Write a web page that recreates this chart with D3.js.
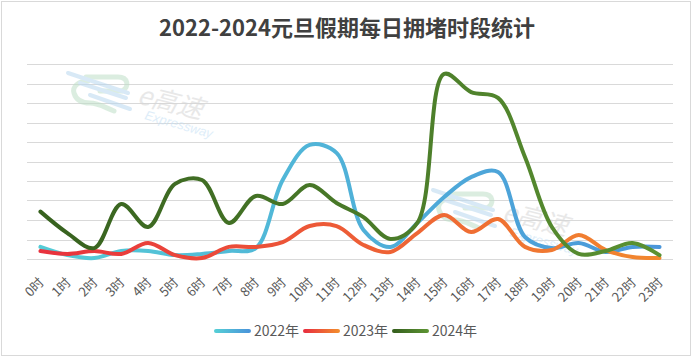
<!DOCTYPE html>
<html><head><meta charset="utf-8">
<script src="https://cdn.jsdelivr.net/npm/d3@7"></script>
<style>body{margin:0;background:#fff;}svg{display:block;font-family:"Noto Sans CJK SC","Noto Sans",sans-serif;}</style>
</head><body>
<svg id="c" width="693" height="357"></svg>
<script>
const hours = ["0时","1时","2时","3时","4时","5时","6时","7时","8时","9时","10时","11时","12时","13时","14时","15时","16时","17时","18时","19时","20时","21时","22时","23时"];
const v2022 = [0.62,0.2,0.05,0.41,0.41,0.2,0.26,0.41,0.56,4.05,5.85,5.44,1.49,0.62,1.85,3.18,4.2,4.46,1.13,0.56,0.82,0.36,0.62,0.62];
const v2023 = [0.41,0.26,0.41,0.26,0.82,0.2,0.05,0.62,0.62,0.87,1.69,1.69,0.72,0.36,1.33,2.26,1.38,2.05,0.62,0.46,1.23,0.46,0.1,0.05];
const v2024 = [2.43,1.33,0.56,2.82,1.64,3.85,4.05,1.85,3.23,2.82,3.79,2.87,2.15,1.03,1.85,9.49,8.56,8.26,5.23,1.64,0.26,0.41,0.82,0.2];
const seriesNames = ["2022年","2023年","2024年"];
const gridTicks = [0,1,2,3,4,5,6,7,8,9,10];

const svg = d3.select("#c");
const W = 693, H = 357;
const m = {l:27, r:20, t:64, b:98};
const x = d3.scaleBand().domain(hours).range([m.l, W - m.r]);
const y = d3.scaleLinear().domain([0,10]).range([H - m.b, m.t]);

svg.append("rect").attr("x",1.5).attr("y",1.5).attr("width",689).attr("height",354)
  .attr("fill","#fff").attr("stroke","#d9d9d9");

const defs = svg.append("defs");
const grads = [["g22","#55cdd6","#4a95da"],["g23","#e8303e","#f28a2e"],["g24","#36601e","#5b9232"]];
grads.forEach(([id,a,b])=>{
  const g = defs.append("linearGradient").attr("id",id).attr("gradientUnits","userSpaceOnUse")
    .attr("x1",m.l).attr("x2",W-m.r).attr("y1",0).attr("y2",0);
  g.append("stop").attr("offset","0").attr("stop-color",a);
  g.append("stop").attr("offset","1").attr("stop-color",b);
});
grads.forEach(([id,a,b])=>{
  const g = defs.append("linearGradient").attr("id",id+"L").attr("x1","0").attr("x2","1");
  g.append("stop").attr("offset","0").attr("stop-color",a);
  g.append("stop").attr("offset","1").attr("stop-color",b);
});

// gridlines
svg.append("g").selectAll("line").data(gridTicks).join("line")
  .attr("x1",m.l).attr("x2",W-m.r).attr("y1",d=>Math.round(y(d))+0.5).attr("y2",d=>Math.round(y(d))+0.5)
  .attr("stroke","#d9d9d9").attr("stroke-width",1);

// watermarks
function watermark(tx,ty,s){
  const g = svg.append("g").attr("transform",`translate(${tx},${ty}) scale(${s})`).attr("opacity",0.55);
  g.append("path").attr("d","M20,8 C10,8 4,14 6,20 C8,27 14,30 22,30 C30,30 36,34 46,38")
    .attr("fill","none").attr("stroke","#bfe0c8").attr("stroke-width",5).attr("stroke-linecap","round");
  g.append("path").attr("d","M18,4 L50,4 C60,4 62,14 54,18 L32,18")
    .attr("fill","none").attr("stroke","#bfe0c8").attr("stroke-width",5).attr("stroke-linecap","round");
  g.append("path").attr("d","M0,0 L60,20").attr("stroke","#b9d8f0").attr("stroke-width",4).attr("stroke-linecap","round");
  g.append("path").attr("d","M12,10 L58,25").attr("stroke","#b9d8f0").attr("stroke-width",4).attr("stroke-linecap","round");
  g.append("path").attr("d","M22,22 L62,36").attr("stroke","#b9d8f0").attr("stroke-width",4).attr("stroke-linecap","round");
  g.append("text").attr("x",68).attr("y",30).attr("transform","rotate(14,68,30)")
    .attr("font-size",26).attr("font-style","italic").attr("fill","#d6d6d6").text("e高速");
  g.append("text").attr("x",76).attr("y",46).attr("transform","rotate(16,76,46)")
    .attr("font-size",13).attr("font-family","Liberation Sans, sans-serif").attr("font-style","italic").attr("fill","#c5dff5").text("Expressway");
}
watermark(68,73,1);
watermark(433,190,1);

// lines
const line = d3.line().x((d,i)=>x(hours[i]) + x.bandwidth()/2).y(d=>y(d)).curve(d3.curveCatmullRom.alpha(0.5));
[[v2022,"g22"],[v2023,"g23"],[v2024,"g24"]].forEach(([vals,id])=>{
  svg.append("path").datum(vals).attr("d",line).attr("fill","none")
    .attr("stroke",`url(#${id})`).attr("stroke-width",4).attr("stroke-linejoin","round").attr("stroke-linecap","round");
});

// x axis labels
svg.append("g").selectAll("text").data(hours).join("text")
  .attr("transform",d=>`translate(${x(d)+x.bandwidth()/2+1},${H-m.b+21}) rotate(-45)`)
  .attr("text-anchor","end").attr("dy","0.35em")
  .attr("font-size",13).attr("fill","#595959").text(d=>d);

// title
svg.append("text").attr("x",347).attr("y",36).attr("text-anchor","middle")
  .attr("font-size",22).attr("font-weight","bold").attr("fill","#404040")
  .text("2022-2024元旦假期每日拥堵时段统计");

// legend
const legX = [214,303,392];
seriesNames.forEach((n,i)=>{
  svg.append("line").attr("x1",legX[i]+2).attr("x2",legX[i]+35).attr("y1",331).attr("y2",331.01)
    .attr("stroke",`url(#${grads[i][0]}L)`).attr("stroke-width",4).attr("stroke-linecap","round");
  svg.append("text").attr("x",legX[i]+40).attr("y",331).attr("dy","0.36em")
    .attr("font-size",14).attr("fill","#595959").text(n);
});
</script>
</body></html>
